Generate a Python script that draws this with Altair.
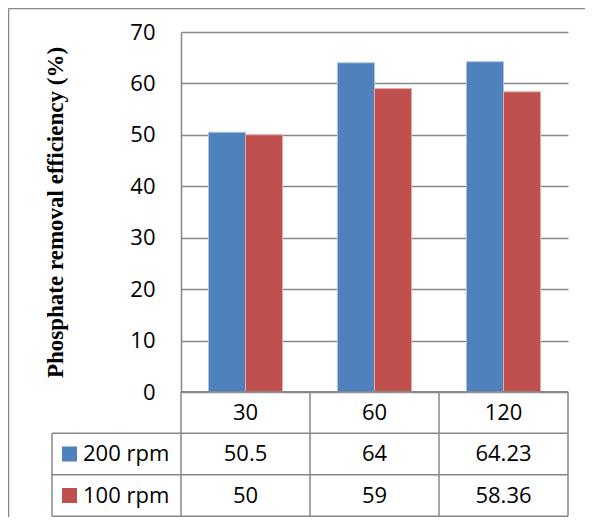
import altair as alt
import pandas as pd

# ---- data ----
categories = ["30", "60", "120"]
series = ["200 rpm", "100 rpm"]
values_200 = [50.5, 64, 64.23]
values_100 = [50, 59, 58.36]
y_ticks = [0, 10, 20, 30, 40, 50, 60, 70]
colors = ["#4F81BD", "#C0504D"]
edge_colors = ["#a9c1e0", "#e3aaa9"]

W, H = 387, 360
LINE = "#878787"
FONT = "Open Sans"
FS = 22

bars_df = pd.DataFrame(
    [{"cat": c, "series": series[0], "value": v} for c, v in zip(categories, values_200)]
    + [{"cat": c, "series": series[1], "value": v} for c, v in zip(categories, values_100)]
)

table_rows = [{"cat": c, "ri": 0, "label": c} for c in categories]
for i, vals in enumerate([values_200, values_100]):
    for c, v in zip(categories, vals):
        table_rows.append({"cat": c, "ri": i + 1, "label": f"{v:g}"})
table_df = pd.DataFrame(table_rows)
series_df = pd.DataFrame({"series": series, "ri": [1, 2]})
vlines_df = pd.DataFrame({"cat": categories, "lo": [-0.5] * 3, "hi": [2.5] * 3})
one = pd.DataFrame({"a": [0]})

x_scale = alt.Scale(domain=categories, paddingInner=0, paddingOuter=0)
color_scale = alt.Scale(domain=series, range=colors)


def row_scale():
    # table rows below the plot area (pixels relative to plot top)
    return alt.Scale(domain=[0, 2], range=[H + 20.5, H + 103.5], zero=False, nice=False)


bars = alt.Chart(bars_df).mark_bar(strokeWidth=1).encode(
    x=alt.X("cat:N", sort=categories, scale=x_scale, axis=None),
    xOffset=alt.XOffset("series:N", sort=series,
                        scale=alt.Scale(domain=series, paddingInner=0, paddingOuter=0.743)),
    y=alt.Y("value:Q", scale=alt.Scale(domain=[0, 70], nice=False),
            axis=alt.Axis(values=y_ticks, grid=True, gridColor=LINE, gridWidth=1.5,
                          ticks=False, labelPadding=26, labelFont=FONT, labelFontSize=FS,
                          labelColor="black", domain=True, domainColor=LINE, domainWidth=1.5,
                          title="Phosphate removal efficiency (%)",
                          titleFont="Liberation Serif", titleFontWeight="bold",
                          titleFontSize=23, titleColor="black", titleAngle=270,
                          titleX=-119, titleY=H / 2, titleAlign="center",
                          titleBaseline="alphabetic")),
    color=alt.Color("series:N", scale=color_scale, legend=None),
    stroke=alt.Stroke("series:N", scale=alt.Scale(domain=series, range=edge_colors), legend=None),
)

# table horizontal lines
axis_line = alt.Chart(pd.DataFrame({"e": [-0.5]})).mark_rule(color=LINE, strokeWidth=1.5).encode(
    y=alt.Y("e:Q", scale=row_scale(), axis=None), x=alt.value(0), x2=alt.value(W))
row_lines = alt.Chart(pd.DataFrame({"e": [0.5, 1.5, 2.5]})).mark_rule(color=LINE, strokeWidth=1.5).encode(
    y=alt.Y("e:Q", scale=row_scale(), axis=None), x=alt.value(-129), x2=alt.value(W))

# table vertical lines
vlines = alt.Chart(vlines_df).mark_rule(color=LINE, strokeWidth=1.5).encode(
    x=alt.X("cat:N", sort=categories, bandPosition=0, axis=None),
    y=alt.Y("lo:Q", scale=row_scale(), axis=None), y2="hi:Q")
end_line = alt.Chart(pd.DataFrame({"lo": [-0.5], "hi": [2.5]})).mark_rule(color=LINE, strokeWidth=1.5).encode(
    x=alt.value(W), y=alt.Y("lo:Q", scale=row_scale(), axis=None), y2="hi:Q")
left_line = alt.Chart(pd.DataFrame({"lo": [0.5], "hi": [2.5]})).mark_rule(color=LINE, strokeWidth=1.5).encode(
    x=alt.value(-129), y=alt.Y("lo:Q", scale=row_scale(), axis=None), y2="hi:Q")

# table texts
table_text = alt.Chart(table_df).mark_text(font=FONT, fontSize=FS, baseline="middle",
                                            align="center", color="black").encode(
    x=alt.X("cat:N", sort=categories, axis=None),
    y=alt.Y("ri:Q", scale=row_scale(), axis=None),
    text="label:N")
series_text = alt.Chart(series_df).mark_text(font=FONT, fontSize=FS, baseline="middle",
                                              align="left", color="black").encode(
    x=alt.value(-98), y=alt.Y("ri:Q", scale=row_scale(), axis=None), text="series:N")
swatches = alt.Chart(series_df).mark_square(size=225, opacity=1).encode(
    x=alt.value(-111.5), y=alt.Y("ri:Q", scale=row_scale(), axis=None),
    color=alt.Color("series:N", scale=color_scale, legend=None))

# outer frame
top_border = alt.Chart(one).mark_rule(color=LINE, strokeWidth=1.5).encode(
    y=alt.value(-23.5), x=alt.value(-172.5), x2=alt.value(W + 17))
left_border = alt.Chart(one).mark_rule(color=LINE, strokeWidth=1.5).encode(
    x=alt.value(-172.5), y=alt.value(-23.5), y2=alt.value(H + 125))

chart = alt.layer(
    bars, axis_line, row_lines, vlines, end_line, left_line,
    table_text, series_text, swatches, top_border, left_border
).resolve_scale(y="independent").properties(
    width=W, height=H,
    autosize=alt.AutoSizeParams(type="none"),
    padding={"left": 173, "top": 24, "right": 17, "bottom": 125},
).configure_view(stroke=None)

chart.save("out.html", embed_options={"renderer": "svg", "actions": False})
